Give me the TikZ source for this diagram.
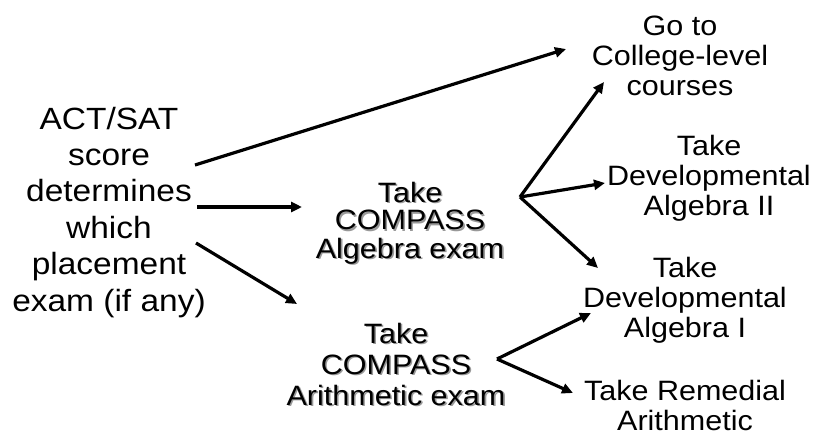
\documentclass[tikz,border=0pt]{standalone}
\usepackage{fontspec}
\setmainfont{Liberation Sans}[FakeStretch=1.09]
\usetikzlibrary{arrows.meta}
\newcommand\lines[1]{\begin{tabular}[t]{@{}c@{}}#1\end{tabular}}
\newcommand\shadowed[1]{\makebox[0pt][l]{\hspace*{1.6pt}\raisebox{-1.6pt}{\color{black!40}\lines{#1}}}\lines{#1}}
\tikzset{
  txt/.style={inner sep=0pt, anchor=base},
  bigtxt/.style={txt, font=\fontsize{30.7}{36.4}\selectfont},
  algtxt/.style={txt, font=\fontsize{28}{27.5}\selectfont},
  aritxt/.style={txt, font=\fontsize{28}{31}\selectfont},
  restxt/.style={txt, font=\fontsize{28}{30}\selectfont},
  arr/.style={line width=3.2pt, -{Triangle[length=11pt,width=10pt]}},
}
\begin{document}
\begin{tikzpicture}[x=1pt,y=-1pt]
\useasboundingbox (0,0) rectangle (815,437);
\node[bigtxt] (act) at (109,129) {\lines{ACT/SAT\\score\\determines\\which\\placement\\exam (if any)}};
\node[algtxt] (alg) at (410,202) {\shadowed{Take\\COMPASS\\Algebra exam}};
\node[aritxt] (ari) at (396,343) {\shadowed{Take\\COMPASS\\Arithmetic exam}};
\node[restxt] (col) at (680,35) {\lines{Go to\\College-level\\courses}};
\node[restxt] (dev2) at (709,155) {\lines{Take\\Developmental\\Algebra II}};
\node[restxt] (dev1) at (685,277) {\lines{Take\\Developmental\\Algebra I}};
\node[restxt] (rem) at (685,400) {\lines{Take Remedial\\Arithmetic}};
\coordinate (s1) at (195,165);
\coordinate (t1) at (566,49);
\coordinate (s2) at (197,207);
\coordinate (t2) at (302,207);
\coordinate (s3) at (196,243);
\coordinate (t3) at (297,304);
\coordinate (fA) at (520,197);
\coordinate (tA1) at (604,82);
\coordinate (tA2) at (605,183);
\coordinate (tA3) at (598,268);
\coordinate (fB) at (497,359);
\coordinate (tB1) at (591,313);
\coordinate (tB2) at (573,393);
\draw[arr] (s1) -- (t1);
\draw[arr] (s2) -- (t2);
\draw[arr] (s3) -- (t3);
\draw[arr] (fA) -- (tA1);
\draw[arr] (fA) -- (tA2);
\draw[arr] (fA) -- (tA3);
\draw[arr] (fB) -- (tB1);
\draw[arr] (fB) -- (tB2);
\end{tikzpicture}
\end{document}
